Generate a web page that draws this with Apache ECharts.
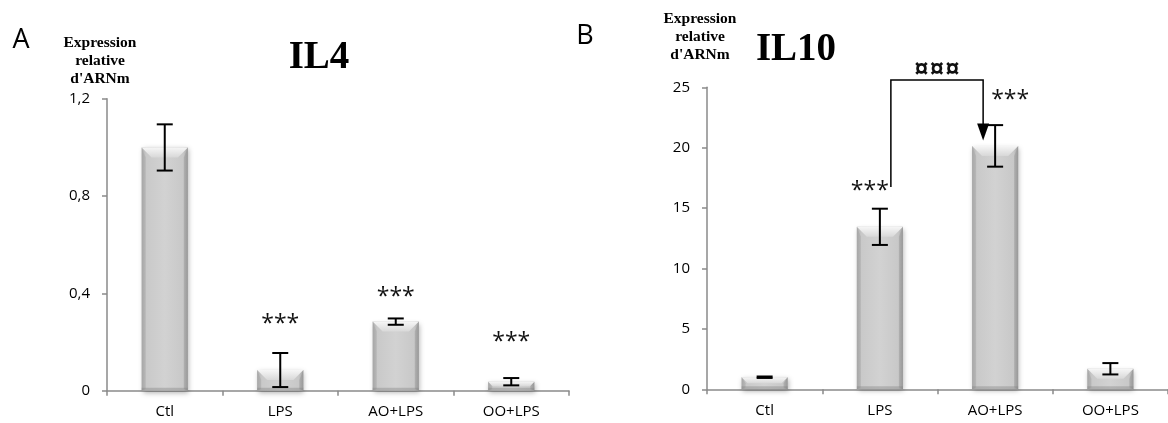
<!DOCTYPE html>
<html>
<head>
<meta charset="utf-8">
<script src="https://cdn.jsdelivr.net/npm/echarts@6/dist/echarts.min.js"></script>
<style>
html,body{margin:0;padding:0;background:#fff;}
#chart{width:1168px;height:423px;}
</style>
</head>
<body>
<div id="chart"></div>
<script>
// ---- data ----
const categories = ['Ctl', 'LPS', 'AO+LPS', 'OO+LPS'];
const il4Mean = [1.0, 0.085, 0.284, 0.037];
const il4Err = [0.095, 0.07, 0.013, 0.015];
const il4Stars = ['', '***', '***', '***'];
const il4StarLevel = [null, 0.284, 0.397, 0.2125];
const il10Mean = [1.0, 13.45, 20.15, 1.7];
const il10Err = [0.06, 1.5, 1.72, 0.47];
const il10Stars = ['', '***', '***', ''];
const il10StarLevel = [null, 16.66, 24.17, null];
const bracketPair = [1, 2];
const bracketLevel = 25.6;
const bracketArrowTip = 20.6;
const bracketLabel = '¤¤¤';
const il4Axis = {min: 0, max: 1.2, interval: 0.4};
const il10Axis = {min: 0, max: 25, interval: 5};
const panelTitles = ['IL4', 'IL10'];
const panelLetters = ['A', 'B'];
const yName = "Expression\nrelative\nd'ARNm";

// ---- rendering ----
const chart = echarts.init(document.getElementById('chart'), null, {renderer: 'canvas'});
const axisColor = '#8a8a8a';
const sans = 'Open Sans';
const serif = 'Liberation Serif';

function renderBar(params, api) {
  const x = api.value(0), v = api.value(1);
  const top = api.coord([x, v]);
  const base = api.coord([x, 0]);
  const bw = api.size([1, 0])[0] * 0.4;
  const x0 = top[0] - bw / 2, x1 = top[0] + bw / 2;
  const y0 = top[1], y1 = base[1];
  const h = y1 - y0;
  const b = Math.min(10, h / 2);
  const s = Math.min(4, bw / 4);
  return {
    type: 'group',
    children: [
      {type: 'rect', shape: {x: x0, y: y0, width: bw, height: h},
        style: {
          fill: new echarts.graphic.LinearGradient(0, 0, 1, 0, [
            {offset: 0, color: '#b0b0b0'}, {offset: 0.1, color: '#c9c9c9'},
            {offset: 0.5, color: '#d2d2d2'}, {offset: 0.9, color: '#c8c8c8'},
            {offset: 1, color: '#a4a4a4'}]),
          shadowBlur: 5, shadowColor: 'rgba(0,0,0,0.3)', shadowOffsetX: 1, shadowOffsetY: 2
        }},
      {type: 'polygon', shape: {points: [[x0, y0], [x0 + s, y0 + b], [x0 + s, y1 - 2], [x0, y1]]},
        style: {fill: 'rgba(140,140,140,0.25)'}},
      {type: 'polygon', shape: {points: [[x1, y0], [x1 - s, y0 + b], [x1 - s, y1 - 2], [x1, y1]]},
        style: {fill: 'rgba(120,120,120,0.25)'}},
      {type: 'polygon', shape: {points: [[x0, y0], [x1, y0], [x1 - b, y0 + b], [x0 + b, y0 + b]]},
        style: {fill: new echarts.graphic.LinearGradient(0, 0, 0, 1, [
          {offset: 0, color: '#f6f6f6'}, {offset: 1, color: '#d8d8d8'}])}},
      {type: 'rect', shape: {x: x0, y: y1 - 3, width: bw, height: 3},
        style: {fill: 'rgba(130,130,130,0.4)'}}
    ]
  };
}

function renderErr(params, api) {
  const x = api.value(0), v = api.value(1), e = api.value(2);
  const hi = api.coord([x, v + e]);
  const lo = api.coord([x, v - e]);
  const c = 8;
  const st = {stroke: '#000', lineWidth: 2};
  return {
    type: 'group',
    children: [
      {type: 'line', shape: {x1: hi[0], y1: hi[1], x2: lo[0], y2: lo[1]}, style: st},
      {type: 'line', shape: {x1: hi[0] - c, y1: hi[1], x2: hi[0] + c, y2: hi[1]}, style: st},
      {type: 'line', shape: {x1: lo[0] - c, y1: lo[1], x2: lo[0] + c, y2: lo[1]}, style: st}
    ]
  };
}

function makeStarRenderer(stars, align, dx) {
  return function (params, api) {
    const i = params.dataIndex;
    const lvl = api.value(1);
    if (!stars[i] || lvl == null || isNaN(lvl)) return null;
    const p = api.coord([api.value(0), lvl]);
    return {
      type: 'text', x: p[0] + (dx ? dx[i] : 0), y: p[1] + 3,
      style: {text: stars[i], fontSize: 23, fontFamily: sans, fill: '#111',
        align: align ? align[i] : 'center', verticalAlign: 'middle'}
    };
  };
}

function renderBracket(params, api) {
  if (params.dataIndex !== 0) return null;
  const a = api.coord([bracketPair[0], il10StarLevel[bracketPair[0]]]);
  const b = api.coord([bracketPair[1], bracketArrowTip]);
  const topY = api.coord([0, bracketLevel])[1];
  const xl = a[0] + 11, xr = b[0] - 12;
  const st = {stroke: '#000', lineWidth: 1.5, fill: null};
  return {
    type: 'group',
    children: [
      {type: 'polyline', shape: {points: [[xl, a[1] - 1], [xl, topY], [xr, topY], [xr, b[1] - 16]]}, style: st},
      {type: 'polygon', shape: {points: [[xr - 6, b[1] - 17], [xr + 6, b[1] - 17], [xr, b[1]]]}, style: {fill: '#000'}},
      {type: 'text', x: (xl + xr) / 2, y: topY + 4,
        style: {text: bracketLabel, fontSize: 27, fontWeight: 'bold', fontFamily: sans, fill: '#111', align: 'center', verticalAlign: 'bottom'}}
    ]
  };
}

function seriesFor(idx, mean, err, stars, starLevel, align, dx) {
  return [
    {type: 'custom', xAxisIndex: idx, yAxisIndex: idx, renderItem: renderBar, clip: false, z: 2,
      data: categories.map((c, i) => [i, mean[i]])},
    {type: 'custom', xAxisIndex: idx, yAxisIndex: idx, renderItem: renderErr, clip: false, z: 3,
      data: categories.map((c, i) => [i, mean[i], err[i]])},
    {type: 'custom', xAxisIndex: idx, yAxisIndex: idx, renderItem: makeStarRenderer(stars, align, dx), clip: false, z: 4,
      data: categories.map((c, i) => [i, starLevel[i] == null ? NaN : starLevel[i]])}
  ];
}

function xAxisFor(idx) {
  return {
    type: 'category', gridIndex: idx, data: categories, boundaryGap: true,
    axisLine: {lineStyle: {color: axisColor, width: 1.5}},
    axisTick: {show: true, length: 5, lineStyle: {color: axisColor, width: 1.5}, alignWithLabel: false},
    axisLabel: {color: '#000', fontSize: 15, fontFamily: sans, margin: 14},
    splitLine: {show: false}
  };
}
function yAxisFor(idx, ax) {
  return {
    type: 'value', gridIndex: idx, min: ax.min, max: ax.max, interval: ax.interval,
    axisLine: {show: true, lineStyle: {color: axisColor, width: 1.5}},
    axisTick: {show: true, length: 5, lineStyle: {color: axisColor, width: 1.5}},
    axisLabel: {color: '#000', fontSize: 15, fontFamily: sans, margin: 17,
      formatter: v => String(v).replace('.', ',')},
    splitLine: {show: false}
  };
}

const bracketSeries = {
  type: 'custom', xAxisIndex: 1, yAxisIndex: 1, renderItem: renderBracket, clip: false, z: 5,
  data: [[0, 0]]
};

function txt(x, y, text, size, family, weight, lh) {
  return {type: 'text', x: x, y: y, style: {text: text, fontSize: size, fontFamily: family,
    fontWeight: weight || 'normal', fill: '#000', align: 'center', verticalAlign: 'middle', lineHeight: lh}};
}

const option = {
  animation: false,
  backgroundColor: '#fff',
  grid: [
    {left: 107, right: 599, top: 98.8, bottom: 32.3, containLabel: false},
    {left: 707, right: -6, top: 87.3, bottom: 33.7, containLabel: false}
  ],
  xAxis: [xAxisFor(0), xAxisFor(1)],
  yAxis: [yAxisFor(0, il4Axis), yAxisFor(1, il10Axis)],
  series: [
    ...seriesFor(0, il4Mean, il4Err, il4Stars, il4StarLevel),
    ...seriesFor(1, il10Mean, il10Err, il10Stars, il10StarLevel,
      ['center', 'right', 'left', 'center'], [0, 9, 8 - 12, 0]),
    bracketSeries
  ],
  graphic: [
    txt(21, 40, panelLetters[0], 27, sans),
    txt(585, 36, panelLetters[1], 27, sans),
    txt(319, 58, panelTitles[0], 39, serif, 'bold'),
    txt(796, 50, panelTitles[1], 39, serif, 'bold'),
    txt(100, 61, yName, 15.5, serif, 'bold', 18),
    txt(700, 37, yName, 15.5, serif, 'bold', 18)
  ]
};
chart.setOption(option);
</script>
</body>
</html>
